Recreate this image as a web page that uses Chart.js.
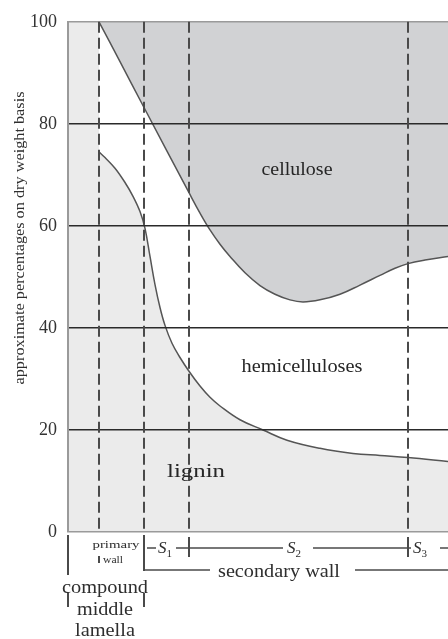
<!DOCTYPE html>
<html>
<head>
<meta charset="utf-8">
<script src="https://cdn.jsdelivr.net/npm/chart.js@4.4.1/dist/chart.umd.min.js"></script>
<style>
html, body { margin: 0; padding: 0; background: #fff; }
#wrap { width: 448px; height: 639px; }
</style>
</head>
<body>
<div id="wrap"><canvas id="wallChart"></canvas></div>
<script>
// x = position across the cell wall (arbitrary units), y = % on dry weight basis
var lamellaX = [0, 31];
var lamellaY = [100, 100];

var celluloseX = [31, 52, 76, 121, 132, 142, 152, 162, 177, 192, 207, 222, 235, 252, 272, 292, 312, 327, 340, 357, 380];
var celluloseY = [100, 92.2, 83.2, 66.5, 62.5, 59.2, 56.4, 54, 50.8, 48.3, 46.6, 45.5, 45.1, 45.5, 46.6, 48.4, 50.3, 51.7, 52.6, 53.3, 54];

var ligninX = [31, 37, 47, 57, 65, 72, 77, 82, 87, 92, 97, 104, 112, 121, 132, 142, 152, 172, 195, 219, 252, 285, 312, 340, 380];
var ligninY = [74.5, 73.4, 71.3, 68.5, 65.8, 62.8, 59.5, 54, 48.5, 44, 40.5, 37, 34.2, 31.5, 28.6, 26.4, 24.7, 22, 20, 18, 16.4, 15.4, 15, 14.6, 13.8];

// layer boundaries: primary wall | S1 | S2 | S3
var layerBounds = [31, 76, 121, 340];
var yTicks = [0, 20, 40, 60, 80, 100];

var serif = '"Liberation Serif", "DejaVu Serif", serif';

function toPts(xs, ys){
	return xs.map(function(x, i){ return {x: x, y: ys[i]}; });
}

//글자 폭 맞춰서 그리기
function fitText(ctx, text, x, y, size, width, style){
	ctx.font = (style ? style + ' ' : '') + size + 'px ' + serif;
	var w = ctx.measureText(text).width;
	ctx.save();
	ctx.translate(x, y);
	ctx.scale(width / w, 1);
	ctx.textAlign = 'center';
	ctx.textBaseline = 'alphabetic';
	ctx.fillText(text, 0, 0);
	ctx.restore();
}

function line(ctx, x1, y1, x2, y2){
	ctx.beginPath();
	ctx.moveTo(x1, y1);
	ctx.lineTo(x2, y2);
	ctx.stroke();
}

function sLabel(ctx, x, y, sub){
	ctx.textAlign = 'left';
	ctx.textBaseline = 'alphabetic';
	ctx.font = 'italic 17px ' + serif;
	ctx.fillText('S', x, y);
	var w = ctx.measureText('S').width;
	ctx.font = '11px ' + serif;
	ctx.fillText(sub, x + w, y + 4);
}

var wallMarks = {
	id: 'wallMarks',
	afterDraw: function(chart){
		var ctx = chart.ctx;
		var xs = chart.scales.x;
		var ys = chart.scales.y;
		var area = chart.chartArea;
		var b = area.bottom;
		var px = function(v){ return Math.round(xs.getPixelForValue(v)); };

		ctx.save();
		ctx.strokeStyle = '#4a4a4a';
		ctx.lineWidth = 2;

		//점선
		ctx.setLineDash([11, 5]);
		layerBounds.forEach(function(v){
			line(ctx, px(v), area.top, px(v), b);
		});
		ctx.setLineDash([]);

		//아래 구분선
		line(ctx, px(0), b + 3, px(0), b + 43);
		line(ctx, px(layerBounds[1]), b + 3, px(layerBounds[1]), b + 39);
		line(ctx, px(0), b + 61, px(0), b + 75);
		line(ctx, px(layerBounds[1]), b + 61, px(layerBounds[1]), b + 75);
		line(ctx, px(layerBounds[0]), b + 24, px(layerBounds[0]), b + 31);
		line(ctx, px(layerBounds[2]), b + 5, px(layerBounds[2]), b + 25);
		line(ctx, px(layerBounds[3]), b + 5, px(layerBounds[3]), b + 25);

		ctx.lineWidth = 1.5;
		line(ctx, px(79), b + 16, px(88), b + 16);
		line(ctx, px(108), b + 16, px(215), b + 16);
		line(ctx, px(245), b + 16, px(343), b + 16);
		line(ctx, px(372), b + 16, px(380), b + 16);
		line(ctx, px(layerBounds[1]), b + 38, px(142), b + 38);
		line(ctx, px(287), b + 38, px(380), b + 38);

		ctx.fillStyle = '#2e2e2e';
		sLabel(ctx, px(90), b + 21, '1');
		sLabel(ctx, px(219), b + 21, '2');
		sLabel(ctx, px(345), b + 21, '3');

		fitText(ctx, 'primary', px(48), b + 16, 11, 47);
		fitText(ctx, 'wall', px(45), b + 31, 11, 20);
		fitText(ctx, 'secondary wall', px(211), b + 45, 18, 122);
		fitText(ctx, 'compound', px(37), b + 61, 18, 86);
		fitText(ctx, 'middle', px(37), b + 83, 18, 56);
		fitText(ctx, 'lamella', px(37), b + 104, 18, 60);

		//영역 이름
		ctx.fillStyle = '#262626';
		fitText(ctx, 'cellulose', px(229), ys.getPixelForValue(70), 18, 71);
		fitText(ctx, 'hemicelluloses', px(234), ys.getPixelForValue(31.4), 18, 121);
		fitText(ctx, 'lignin', px(128), ys.getPixelForValue(10.8), 18, 58);

		//y축 제목
		ctx.save();
		ctx.translate(20, 238);
		ctx.rotate(-Math.PI / 2);
		ctx.fillStyle = '#2e2e2e';
		ctx.font = '15px ' + serif;
		var w = ctx.measureText('approximate percentages on dry weight basis').width;
		ctx.scale(293 / w, 1);
		ctx.textAlign = 'center';
		ctx.textBaseline = 'middle';
		ctx.fillText('approximate percentages on dry weight basis', 0, 0);
		ctx.restore();

		ctx.restore();
	}
};

var chartCtx = document.getElementById('wallChart').getContext('2d');
var wallChart = new Chart(chartCtx, {
	type: 'line',
	data: {
		datasets: [{
			label: 'middle lamella',
			data: toPts(lamellaX, lamellaY),
			fill: 'origin',
			backgroundColor: '#ebebeb',
			borderWidth: 0,
			pointRadius: 0
		}, {
			label: 'lignin',
			data: toPts(ligninX, ligninY),
			fill: 'origin',
			backgroundColor: '#ebebeb',
			borderColor: '#555',
			borderWidth: 1.5,
			pointRadius: 0,
			tension: 0.4
		}, {
			label: 'cellulose',
			data: toPts(celluloseX, celluloseY),
			fill: 'end',
			backgroundColor: '#d1d2d4',
			borderColor: '#555',
			borderWidth: 1.5,
			pointRadius: 0,
			tension: 0.4
		}]
	},
	options: {
		responsive: true,
		maintainAspectRatio: false,
		animation: false,
		layout: { padding: { left: 0, top: 19, right: 0, bottom: 107 } },
		plugins: {
			legend: { display: false },
			tooltip: { enabled: false }
		},
		scales: {
			x: { type: 'linear', min: 0, max: 380, display: false },
			y: {
				min: 0,
				max: 100,
				afterFit: function(scale){ scale.width = 68; },
				afterBuildTicks: function(scale){
					scale.ticks = yTicks.map(function(v){ return {value: v}; });
				},
				grid: {
					z: 1,
					drawTicks: false,
					lineWidth: 1.5,
					color: function(c){
						return (c.tick.value == 0 || c.tick.value == 100) ? '#9a9a9a' : '#2a2a2a';
					}
				},
				border: { color: '#9a9a9a', width: 2, z: 1 },
				ticks: {
					padding: 11,
					color: '#333',
					font: { family: serif, size: 18 }
				}
			}
		}
	},
	plugins: [wallMarks]
});
</script>
</body>
</html>
